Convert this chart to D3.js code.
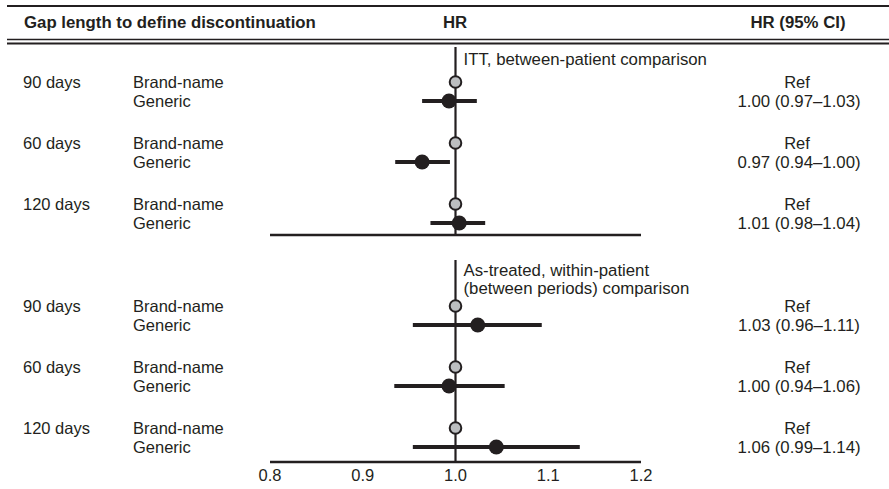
<!DOCTYPE html>
<html>
<head>
<meta charset="utf-8">
<script src="https://cdn.jsdelivr.net/npm/d3@7"></script>
<style>
  body { margin: 0; background: #fff; }
  text { font-family: "Liberation Sans", Arial, sans-serif; fill: #231f20; }
</style>
</head>
<body>
<div id="my_dataviz"></div>
<script>
var Width = 889, Height = 489;

// data
var gaps = ["90 days", "60 days", "120 days"];
var drugs = ["Brand-name", "Generic"];
var panelTitles = [
  ["ITT, between-patient comparison"],
  ["As-treated, within-patient", "(between periods) comparison"]
];
// generic HR as plotted (brand-name is the reference, HR = 1)
var genericHR   = [[0.993, 0.964, 1.004], [1.024, 0.993, 1.044]];
var genericLow  = [[0.964, 0.935, 0.973], [0.954, 0.934, 0.954]];
var genericHigh = [[1.023, 0.994, 1.032], [1.093, 1.053, 1.134]];
var refHR = 1.0;
var ciLabels = [
  ["1.00 (0.97\u20131.03)", "0.97 (0.94\u20131.00)", "1.01 (0.98\u20131.04)"],
  ["1.03 (0.96\u20131.11)", "1.00 (0.94\u20131.06)", "1.06 (0.99\u20131.14)"]
];
var xTicks = [0.8, 0.9, 1.0, 1.1, 1.2];

var ink = "#231f20";
var fs = "16.5px";

var svg = d3.select("#my_dataviz")
  .append("svg")
    .attr("width", Width)
    .attr("height", Height);

var x = d3.scaleLinear()
  .domain([0.8, 1.2])
  .range([270, 641]);

// row position of each gap-length group inside a panel
var panelY = [
  d3.scaleLinear().domain([0, 2]).range([82, 204]),
  d3.scaleLinear().domain([0, 2]).range([306, 428])
];
var panelTop = [47, 260];
var panelAxis = [235, 462];
var rowGap = 19;

// header
svg.append("line").attr("x1", 7).attr("x2", Width).attr("y1", 6).attr("y2", 6)
  .attr("stroke", ink).attr("stroke-width", 2);
svg.append("line").attr("x1", 7).attr("x2", Width).attr("y1", 39.5).attr("y2", 39.5)
  .attr("stroke", ink).attr("stroke-width", 1.3);
svg.append("line").attr("x1", 7).attr("x2", Width).attr("y1", 43.5).attr("y2", 43.5)
  .attr("stroke", ink).attr("stroke-width", 2);

svg.append("text").attr("x", 24).attr("y", 28).text("Gap length to define discontinuation")
  .style("font-size", "16.8px").style("font-weight", "bold");
svg.append("text").attr("x", 455).attr("y", 28).attr("text-anchor", "middle").text("HR")
  .style("font-size", "16.8px").style("font-weight", "bold");
svg.append("text").attr("x", 798).attr("y", 28).attr("text-anchor", "middle").text("HR (95% CI)")
  .style("font-size", "16.8px").style("font-weight", "bold");

panelTitles.forEach(function(title, p) {
  var y = panelY[p];
  var g = svg.append("g");

  // axis line along the bottom of each panel
  g.append("line")
    .attr("x1", x(0.8)).attr("x2", x(1.2))
    .attr("y1", panelAxis[p]).attr("y2", panelAxis[p])
    .attr("stroke", ink).attr("stroke-width", 2.5);

  // reference line at HR = 1
  g.append("line")
    .attr("x1", x(refHR)).attr("x2", x(refHR))
    .attr("y1", panelTop[p]).attr("y2", panelAxis[p])
    .attr("stroke", ink).attr("stroke-width", 2.2);

  // panel title
  g.selectAll(".ptitle")
    .data(title)
    .enter()
    .append("text")
      .attr("x", x(refHR) + 8)
      .attr("y", function(d, i) { return panelTop[p] + 18 + (p == 1 ? -2 : 0) + i * 18; })
      .text(function(d) { return d; })
      .style("font-size", "16.8px");

  gaps.forEach(function(gap, i) {
    var yb = y(i), yg = y(i) + rowGap;

    g.append("text").attr("x", 23).attr("y", yb + 6).text(gap).style("font-size", fs);
    drugs.forEach(function(dr, j) {
      g.append("text").attr("x", 133).attr("y", (j ? yg : yb) + 6).text(dr).style("font-size", fs);
    });
    g.append("text").attr("x", 797).attr("y", yb + 6).attr("text-anchor", "middle")
      .text("Ref").style("font-size", fs);
    g.append("text").attr("x", 799).attr("y", yg + 6).attr("text-anchor", "middle")
      .text(ciLabels[p][i]).style("font-size", "16.8px");

    // generic CI
    g.append("line")
      .attr("x1", x(genericLow[p][i])).attr("x2", x(genericHigh[p][i]))
      .attr("y1", yg).attr("y2", yg)
      .attr("stroke", ink).attr("stroke-width", 4);
    g.append("circle")
      .attr("cx", x(genericHR[p][i])).attr("cy", yg).attr("r", 7.5)
      .style("fill", ink);

    // brand-name reference
    g.append("circle")
      .attr("cx", x(refHR)).attr("cy", yb).attr("r", 5.8)
      .style("fill", "#bcbec0").style("stroke", ink).style("stroke-width", 2);
  });
});

// tick labels under the bottom axis
svg.append("g")
  .selectAll("text")
  .data(xTicks)
  .enter()
  .append("text")
    .attr("x", function(d) { return x(d); })
    .attr("y", 481)
    .attr("text-anchor", "middle")
    .text(function(d) { return d3.format(".1f")(d); })
    .style("font-size", fs);
</script>
</body>
</html>
